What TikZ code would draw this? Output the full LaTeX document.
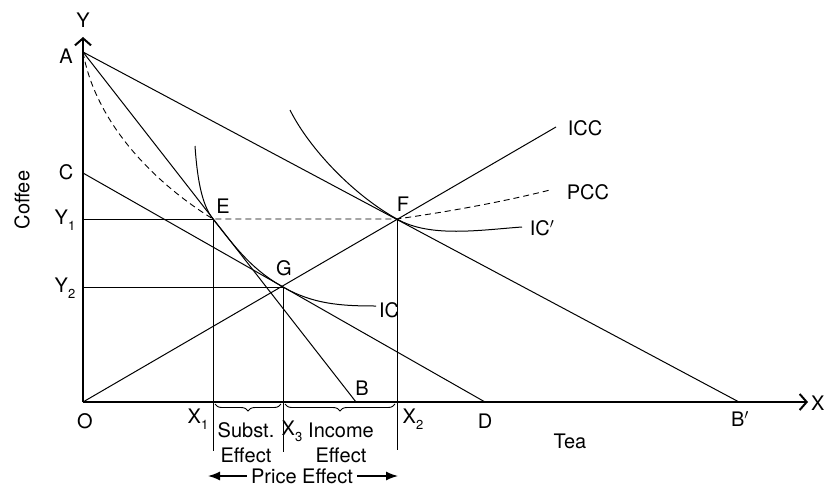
\documentclass[tikz,border=0pt]{standalone}
\usepackage{fontspec}
\setmainfont{TeX Gyre Heros}
\usetikzlibrary{arrows.meta, positioning, decorations.pathreplacing, calc}
\newcommand{\lowsub}[1]{\raisebox{-6pt}{\fontsize{13}{13}\selectfont #1}}

\begin{document}
\begin{tikzpicture}[x=1pt, y=-1pt,
  axis/.style={line width=1.1pt, -{Straight Barb[length=7pt, width=16pt, line width=2pt]}},
  line/.style={line width=1pt},
  pcc/.style={line width=0.9pt, dash pattern=on 6pt off 4pt},
  lbl/.style={font=\fontsize{20}{25}\selectfont, inner sep=1pt},
  brc/.style={decorate, decoration={brace, mirror, amplitude=7pt}, line width=0.9pt},
  arr/.style={-{Latex[length=12pt, width=9pt]}, line width=1.4pt},
]
\useasboundingbox (0,0) rectangle (826,487);

% points of the diagram
\coordinate (O)   at (83,402);
\coordinate (Ytop) at (83,37);
\coordinate (Xend) at (808,402);
\coordinate (A)   at (83,52);
\coordinate (C)   at (83,173);
\coordinate (Y1)  at (83,219);
\coordinate (Y2)  at (83,287);
\coordinate (E)   at (213,219);
\coordinate (G)   at (283,287);
\coordinate (F)   at (397,219);
\coordinate (B)   at (356,402);
\coordinate (D)   at (485,402);
\coordinate (Bp)  at (739,402);
\coordinate (X1)  at (213,451);
\coordinate (X3)  at (283,452);
\coordinate (X2)  at (397,450);
\coordinate (iccend) at (556,127);
\coordinate (pccend) at (550,190);
\coordinate (icstart) at (195,146);
\coordinate (icend)   at (376,306);
\coordinate (icpstart) at (290,110);
\coordinate (icpend)   at (522,227);

% axes
\draw[axis] (O) -- (Ytop);
\draw[axis] (O) -- (Xend);

% budget lines
\draw[line] (A) -- (B);
\draw[line] (A) -- (Bp);
\draw[line] (C) -- (D);
\draw[line] (O) -- (iccend);

% guide lines
\draw[line] (Y1) -- (E);
\draw[line] (Y2) -- (G);
\draw[line] (E) -- (X1);
\draw[line] (G) -- (X3);
\draw[line] (F) -- (X2);

% price consumption curve
\draw[pcc] (A) .. controls (95,120) and (150,180) .. (E) -- (F)
           .. controls (460,210) and (510,200) .. (pccend);

% indifference curves
\draw[line] (icstart) .. controls (197,175) and (201,204) .. (E)
            .. controls (238,251) and (253,270) .. (G)
            .. controls (313,304) and (340,306) .. (icend);
\draw[line] (icpstart) .. controls (310,150) and (355,196) .. (F)
            .. controls (430,238) and (480,230) .. (icpend);

% braces
\draw[brc] (215,404) -- (281,404);
\draw[brc] (285,404) -- (395,404);

% labels
\node[lbl] (lY)  at (83,20)  {Y};
\node[lbl, anchor=west, inner sep=0pt] (lX) at (811,403) {X};
\node[lbl] (lA)  at (66,56)  {A};
\node[lbl] (lC)  at (66,172) {C};
\node[lbl] (lY1) at (65,220) {Y\lowsub{1}};
\node[lbl] (lY2) at (65,288) {Y\lowsub{2}};
\node[lbl] (lO)  at (85,421) {O};
\node[lbl] (lE)  at (223,206) {E};
\node[lbl] (lG)  at (284,268) {G};
\node[lbl] (lF)  at (403,204) {F};
\node[lbl] (lB)  at (362,388) {B};
\node[lbl] (lD)  at (485,421) {D};
\node[lbl] (lBp) at (740,419) {B$'$};
\node[lbl] (lX1) at (198,419) {X\lowsub{1}};
\node[lbl] (lX3) at (292,431) {X\lowsub{3}};
\node[lbl] (lX2) at (413,419) {X\lowsub{2}};
\node[lbl] (lICC) at (585,128) {ICC};
\node[lbl] (lPCC) at (588,192) {PCC};
\node[lbl] (lICp) at (542,228) {IC$'$};
\node[lbl] (lIC)  at (389,310) {IC};
\node[lbl] (lTea) at (570,441) {Tea};
\node[lbl, rotate=90] (lCoffee) at (22,200) {Coffee};
\node[lbl, align=center, inner sep=0pt] (subst)  at (246,443) {Subst.\\Effect};
\node[lbl, align=center, inner sep=0pt] (income) at (341,443) {Income\\Effect};
\node[lbl, inner sep=0pt] (price) at (302,476) {Price Effect};

\coordinate (pleft)  at (208,476);
\coordinate (pright) at (398,476);
\draw[arr] (price.west) ++(-4,0) -- (pleft);
\draw[arr] (price.east) ++(4,0) -- (pright);
\end{tikzpicture}
\end{document}
